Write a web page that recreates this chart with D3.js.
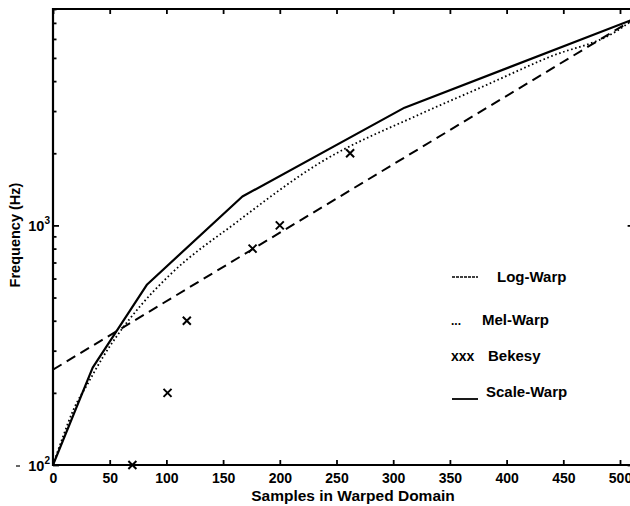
<!DOCTYPE html>
<html>
<head>
<meta charset="utf-8">
<script src="https://cdn.jsdelivr.net/npm/d3@7/dist/d3.min.js"></script>
<style>
  html, body { margin: 0; padding: 0; background: #fff; }
  svg { display: block; }
  text { font-family: "Liberation Sans", Arial, Helvetica, sans-serif; fill: #000; }
</style>
</head>
<body>
<svg id="chart" width="630" height="506"></svg>
<script>
// ---- data ----
const xTicks = [0, 50, 100, 150, 200, 250, 300, 350, 400, 450, 500];
const yMajorTicks = [100, 1000];
const yMinorTicks = [200, 300, 400, 500, 600, 700, 800, 900, 2000, 3000, 4000, 5000, 6000, 7000, 8000];

// Log-Warp (dashed)
const logSamples = [0, 512];
const logFreq = [250, 7250];

// Mel-Warp (dotted)
const melSamples = [0, 9, 18, 31, 44, 57, 77, 103, 162, 235, 324, 376, 438, 497, 512];
const melFreq = [100, 132, 170, 220, 282, 349, 461, 621, 1032, 1820, 2917, 3740, 5050, 6470, 7250];

// Bekesy (x markers)
const bekesySamples = [70, 101, 118, 176, 200, 262];
const bekesyFreq = [100, 200, 400, 800, 1000, 2000];

// Scale-Warp (solid)
const scaleSamples = [0, 35, 83, 167, 310, 512];
const scaleFreq = [100, 255, 567, 1320, 3100, 7250];

const legendLabels = ["Log-Warp", "Mel-Warp", "Bekesy", "Scale-Warp"];

// ---- layout ----
const svg = d3.select("#chart");
const mLeft = 53, mTop = 9, mBottom = 465;
const mRight = mLeft + 512 * 1.134;

const x = d3.scaleLinear().domain([0, 512]).range([mLeft, mRight]);
const y = d3.scaleLog().domain([100, 8000]).range([mBottom, mTop]);

svg.append("defs").append("clipPath").attr("id", "clip")
  .append("rect").attr("x", mLeft).attr("y", mTop).attr("width", mRight - mLeft).attr("height", mBottom - mTop);

const zip = (xs, ys) => xs.map((v, i) => [v, ys[i]]);
const line = d3.line().x(d => x(d[0])).y(d => y(d[1]));
const smoothLine = d3.line().x(d => x(d[0])).y(d => y(d[1])).curve(d3.curveMonotoneX);

const plot = svg.append("g").attr("clip-path", "url(#clip)");

plot.append("path").datum(zip(logSamples, logFreq))
  .attr("d", line).attr("fill", "none").attr("stroke", "#000")
  .attr("stroke-width", 2).attr("stroke-dasharray", "10,6");

plot.append("path").datum(zip(melSamples, melFreq))
  .attr("d", smoothLine).attr("fill", "none").attr("stroke", "#000")
  .attr("stroke-width", 1.8).attr("stroke-dasharray", "1.6,2.6");

plot.append("path").datum(zip(scaleSamples, scaleFreq))
  .attr("d", line).attr("fill", "none").attr("stroke", "#000")
  .attr("stroke-width", 2.2).attr("stroke-linejoin", "round");

// ---- axes ----
const axB = d3.axisBottom(x).tickValues(xTicks).tickSize(-5).tickPadding(8).tickFormat(d3.format("d"));
const gB = svg.append("g").attr("transform", `translate(0,${mBottom})`).call(axB);
gB.select(".domain").remove();
gB.selectAll("line").attr("stroke", "#000").attr("stroke-width", 1.8);
gB.selectAll("text").attr("font-size", "14px").attr("font-weight", "bold").attr("font-family", "Liberation Sans, Arial, sans-serif");

const axT = d3.axisTop(x).tickValues(xTicks).tickSize(-5).tickFormat("");
const gT = svg.append("g").attr("transform", `translate(0,${mTop})`).call(axT);
gT.select(".domain").remove();
gT.selectAll("line").attr("stroke", "#000").attr("stroke-width", 1.8);

function yAxisTicks(side) {
  const xpos = side === "left" ? mLeft : mRight;
  const axMaj = (side === "left" ? d3.axisLeft(y) : d3.axisRight(y))
    .tickValues(yMajorTicks).tickSize(-6).tickFormat("");
  const g1 = svg.append("g").attr("transform", `translate(${xpos},0)`).call(axMaj);
  g1.select(".domain").remove();
  g1.selectAll("line").attr("stroke", "#000").attr("stroke-width", 1.8);
  const axMin = (side === "left" ? d3.axisLeft(y) : d3.axisRight(y))
    .tickValues(yMinorTicks).tickSize(-3.5).tickFormat("");
  const g2 = svg.append("g").attr("transform", `translate(${xpos},0)`).call(axMin);
  g2.select(".domain").remove();
  g2.selectAll("line").attr("stroke", "#000").attr("stroke-width", 1.8);
}
yAxisTicks("left");
yAxisTicks("right");

// y tick labels 10^2, 10^3
const ylab = svg.append("g");
yMajorTicks.forEach(v => {
  const t = ylab.append("text").attr("x", 50).attr("y", y(v) + 6)
    .attr("text-anchor", "end").attr("font-size", "14.5px").attr("font-weight", "bold");
  t.append("tspan").text("10");
  t.append("tspan").attr("dy", -7).attr("font-size", "10px").text(Math.round(Math.log10(v)));
});
// small dash left of 10^2 seen in the reference
svg.append("line").attr("x1", 16).attr("x2", 20).attr("y1", y(100) + 1).attr("y2", y(100) + 1)
  .attr("stroke", "#000").attr("stroke-width", 1.2);

// frame
svg.append("path")
  .attr("d", `M${mRight},${mTop}L${mLeft},${mTop}L${mLeft},${mBottom}L${mRight},${mBottom}L${mRight},${mTop}`)
  .attr("fill", "none").attr("stroke", "#000").attr("stroke-width", 2.2);

// Bekesy markers (drawn above the frame so the one on the axis shows fully)
const ms = 4;
svg.append("g").selectAll("path.bek").data(zip(bekesySamples, bekesyFreq)).enter()
  .append("path").attr("class", "bek")
  .attr("d", d => {
    const cx = x(d[0]), cy = y(d[1]);
    return `M${cx - ms},${cy - ms}L${cx + ms},${cy + ms}M${cx - ms},${cy + ms}L${cx + ms},${cy - ms}`;
  })
  .attr("stroke", "#000").attr("stroke-width", 2).attr("fill", "none");

// axis titles
svg.append("text").attr("x", 353).attr("y", 501).attr("text-anchor", "middle")
  .attr("font-size", "15.5px").attr("font-weight", "bold").text("Samples in Warped Domain");
svg.append("text").attr("transform", "translate(20,235) rotate(-90)").attr("text-anchor", "middle")
  .attr("font-size", "14.5px").attr("font-weight", "bold").text("Frequency (Hz)");

// ---- legend ----
const lg = svg.append("g");
lg.append("line").attr("x1", 452).attr("x2", 478).attr("y1", 277).attr("y2", 277)
  .attr("stroke", "#000").attr("stroke-width", 1.3).attr("stroke-dasharray", "3,1");
lg.append("text").attr("x", 497).attr("y", 282).attr("font-size", "15px").attr("font-weight", "bold").text(legendLabels[0]);

lg.append("text").attr("x", 451).attr("y", 325).attr("font-size", "12px").attr("font-weight", "bold").text("...");
lg.append("text").attr("x", 482).attr("y", 325).attr("font-size", "15px").attr("font-weight", "bold").text(legendLabels[1]);

lg.append("text").attr("x", 451).attr("y", 361).attr("font-size", "14px").attr("font-weight", "bold").text("xxx");
lg.append("text").attr("x", 488).attr("y", 361).attr("font-size", "15px").attr("font-weight", "bold").text(legendLabels[2]);

lg.append("line").attr("x1", 452).attr("x2", 478).attr("y1", 399).attr("y2", 399)
  .attr("stroke", "#000").attr("stroke-width", 1.8);
lg.append("text").attr("x", 486).attr("y", 397).attr("font-size", "15px").attr("font-weight", "bold").text(legendLabels[3]);
</script>
</body>
</html>
